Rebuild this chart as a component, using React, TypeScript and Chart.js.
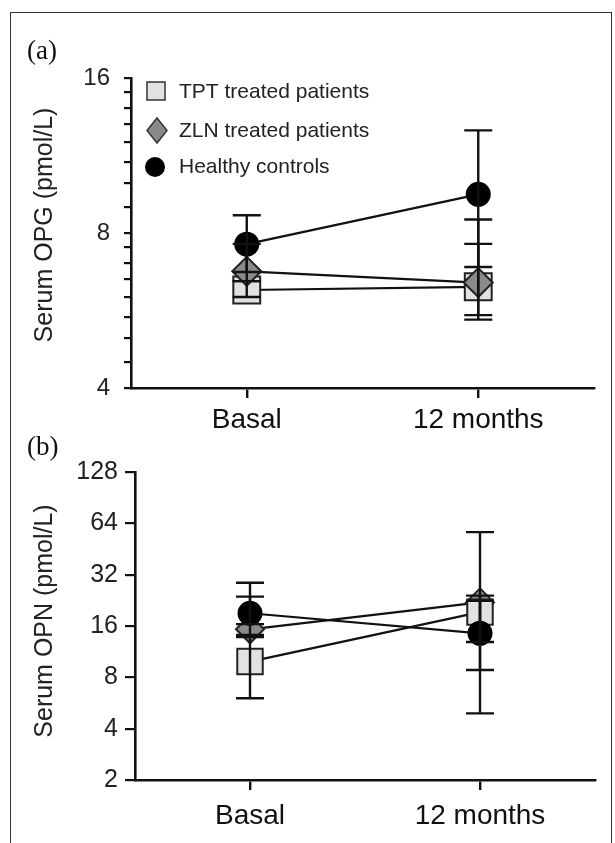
import React, { useEffect, useRef } from 'react';
import { Chart, registerables } from 'chart.js';

Chart.register(...registerables);

const FONT = "'Liberation Sans', Arial, Helvetica, sans-serif";

const categories = ['Basal', '12 months'];
const seriesNames = ['TPT treated patients', 'ZLN treated patients', 'Healthy controls'];

// Panel (a): Serum OPG (pmol/L)
const opgTicks = [4, 4.5, 5, 5.5, 6, 6.5, 7, 7.5, 8, 9, 10, 11, 12, 13, 14, 15, 16];
const opgLabeledTicks = [4, 8, 16];
const opgTPT = [6.2, 6.29];
const opgTPTLow = [6.01, 5.54];
const opgTPTHigh = [6.45, 7.62];
const opgZLN = [6.74, 6.41];
const opgZLNLow = [6.45, 5.43];
const opgZLNHigh = [7.62, 8.5];
const opgHealthy = [7.61, 9.51];
const opgHealthyLow = [6.72, 6.87];
const opgHealthyHigh = [8.66, 12.66];

// Panel (b): Serum OPN (pmol/L)
const opnTicks = [2, 4, 8, 16, 32, 64, 128];
const opnLabeledTicks = [2, 4, 8, 16, 32, 64, 128];
const opnTPT = [9.9, 19.3];
const opnTPTLow = [6.03, 8.83];
const opnTPTHigh = [13.8, 22.5];
const opnZLN = [15.3, 22.0];
const opnZLNLow = [14.2, 12.9];
const opnZLNHigh = [23.8, 56.8];
const opnHealthy = [19.0, 14.5];
const opnHealthyLow = [16.4, 4.92];
const opnHealthyHigh = [28.7, 24.1];

type PanelSpec = {
  canvasTop: number;
  canvasHeight: number;
  padTop: number;
  padRight: number;
  yAxisW: number;
  xAxisH: number;
  min: number;
  max: number;
  ticks: number[];
  labeled: number[];
  yTickLen: number;
  yTickPad: number;
  yTickSize: number;
  xPad: number;
  title: string;
  titleY: number;
  legend: boolean;
  rectR: number;
  diamondR: number;
  circleR: number;
  orders: number[];
  tpt: number[]; tptLow: number[]; tptHigh: number[];
  zln: number[]; zlnLow: number[]; zlnHigh: number[];
  hc: number[]; hcLow: number[]; hcHigh: number[];
};

const errorBarPlugin = {
  id: 'errbars',
  afterDatasetsDraw(chart: any) {
    const ctx = chart.ctx;
    const y = chart.scales.y;
    ctx.save();
    ctx.strokeStyle = '#111';
    ctx.lineWidth = 2.4;
    ctx.lineCap = 'butt';
    chart.data.datasets.forEach((ds: any, di: number) => {
      const meta = chart.getDatasetMeta(di);
      meta.data.forEach((pt: any, i: number) => {
        const x = pt.x;
        const yl = y.getPixelForValue(ds.errLow[i]);
        const yh = y.getPixelForValue(ds.errHigh[i]);
        const cw = 14;
        ctx.beginPath();
        ctx.moveTo(x, yl);
        ctx.lineTo(x, yh);
        ctx.moveTo(x - cw, yl);
        ctx.lineTo(x + cw, yl);
        ctx.moveTo(x - cw, yh);
        ctx.lineTo(x + cw, yh);
        ctx.stroke();
      });
    });
    ctx.restore();
  },
};

function makeDeco(p: PanelSpec) {
  return {
    id: 'deco',
    afterDraw(chart: any) {
      const ctx = chart.ctx;
      ctx.save();
      ctx.translate(45, p.titleY);
      ctx.rotate(-Math.PI / 2);
      ctx.font = `25px ${FONT}`;
      ctx.fillStyle = '#222';
      ctx.textAlign = 'center';
      ctx.textBaseline = 'middle';
      ctx.fillText(p.title, 0, 0);
      ctx.restore();
      if (p.legend) {
        ctx.save();
        ctx.lineWidth = 1.5;
        ctx.strokeStyle = '#333';
        ctx.fillStyle = '#e2e2e2';
        ctx.beginPath();
        ctx.rect(147, 82, 18, 18);
        ctx.fill();
        ctx.stroke();
        ctx.fillStyle = '#8a8a8a';
        ctx.beginPath();
        ctx.moveTo(147, 130.5);
        ctx.lineTo(157, 118);
        ctx.lineTo(167, 130.5);
        ctx.lineTo(157, 143);
        ctx.closePath();
        ctx.fill();
        ctx.stroke();
        ctx.fillStyle = '#000';
        ctx.beginPath();
        ctx.arc(155, 167, 10, 0, Math.PI * 2);
        ctx.fill();
        ctx.font = `21px ${FONT}`;
        ctx.fillStyle = '#222';
        ctx.textAlign = 'left';
        ctx.textBaseline = 'middle';
        ctx.fillText(seriesNames[0], 179, 92);
        ctx.fillText(seriesNames[1], 179, 131.5);
        ctx.fillText(seriesNames[2], 179, 167);
        ctx.restore();
      }
    },
  };
}

function buildConfig(p: PanelSpec): any {
  const common = {
    borderColor: '#111',
    borderWidth: 2.2,
    pointBorderColor: '#222',
    pointBorderWidth: 2,
    pointHoverRadius: 0,
    fill: false,
    tension: 0,
  };
  return {
    type: 'line',
    data: {
      labels: categories,
      datasets: [
        {
          ...common,
          label: seriesNames[0],
          data: p.tpt,
          errLow: p.tptLow,
          errHigh: p.tptHigh,
          pointStyle: 'rect',
          pointRadius: p.rectR,
          pointBackgroundColor: '#e2e2e2',
          order: p.orders[0],
        },
        {
          ...common,
          label: seriesNames[1],
          data: p.zln,
          errLow: p.zlnLow,
          errHigh: p.zlnHigh,
          pointStyle: 'rectRot',
          pointRadius: p.diamondR,
          pointBackgroundColor: '#8a8a8a',
          order: p.orders[1],
        },
        {
          ...common,
          label: seriesNames[2],
          data: p.hc,
          errLow: p.hcLow,
          errHigh: p.hcHigh,
          pointStyle: 'circle',
          pointRadius: p.circleR,
          pointBackgroundColor: '#000',
          pointBorderColor: '#000',
          order: p.orders[2],
        },
      ],
    },
    options: {
      animation: false,
      responsive: false,
      maintainAspectRatio: false,
      events: [],
      layout: { padding: { top: p.padTop, right: p.padRight, left: 0, bottom: 0 } },
      plugins: { legend: { display: false }, tooltip: { enabled: false } },
      scales: {
        x: {
          type: 'category',
          offset: true,
          afterFit: (s: any) => { s.height = p.xAxisH; },
          grid: {
            offset: false,
            drawOnChartArea: false,
            drawTicks: true,
            tickLength: 10,
            color: '#111',
            lineWidth: 2.4,
          },
          border: { display: true, color: '#111', width: 2.6 },
          ticks: {
            color: '#111',
            font: { size: 28, family: FONT },
            padding: p.xPad,
            maxRotation: 0,
            autoSkip: false,
          },
        },
        y: {
          type: 'logarithmic',
          min: p.min,
          max: p.max,
          afterBuildTicks: (s: any) => { s.ticks = p.ticks.map((v) => ({ value: v })); },
          afterFit: (s: any) => { s.width = p.yAxisW; },
          grid: {
            drawOnChartArea: false,
            drawTicks: true,
            tickLength: p.yTickLen,
            color: '#111',
            lineWidth: 2.2,
          },
          border: { display: true, color: '#111', width: 2.6 },
          ticks: {
            autoSkip: false,
            color: '#222',
            font: { size: p.yTickSize, family: FONT },
            padding: p.yTickPad,
            callback: (v: any) => (p.labeled.includes(Number(v)) ? String(v) : ''),
          },
        },
      },
    },
    plugins: [errorBarPlugin, makeDeco(p)],
  };
}

const panelA: PanelSpec = {
  canvasTop: 0, canvasHeight: 440, padTop: 78, padRight: 21, yAxisW: 131, xAxisH: 52,
  min: 4, max: 16, ticks: opgTicks, labeled: opgLabeledTicks,
  yTickLen: 7, yTickPad: 14, yTickSize: 24, xPad: 5,
  title: 'Serum OPG (pmol/L)', titleY: 225, legend: true,
  rectR: 19, diamondR: 14.5, circleR: 11.5,
  orders: [3, 2, 1],
  tpt: opgTPT, tptLow: opgTPTLow, tptHigh: opgTPTHigh,
  zln: opgZLN, zlnLow: opgZLNLow, zlnHigh: opgZLNHigh,
  hc: opgHealthy, hcLow: opgHealthyLow, hcHigh: opgHealthyHigh,
};

const panelB: PanelSpec = {
  canvasTop: 440, canvasHeight: 403, padTop: 32, padRight: 15, yAxisW: 135, xAxisH: 63,
  min: 2, max: 128, ticks: opnTicks, labeled: opnLabeledTicks,
  yTickLen: 10, yTickPad: 7, yTickSize: 25, xPad: 9,
  title: 'Serum OPN (pmol/L)', titleY: 181, legend: false,
  rectR: 18, diamondR: 14, circleR: 11.5,
  orders: [2, 3, 1],
  tpt: opnTPT, tptLow: opnTPTLow, tptHigh: opnTPTHigh,
  zln: opnZLN, zlnLow: opnZLNLow, zlnHigh: opnZLNHigh,
  hc: opnHealthy, hcLow: opnHealthyLow, hcHigh: opnHealthyHigh,
};

export default function App() {
  const refA = useRef<HTMLCanvasElement | null>(null);
  const refB = useRef<HTMLCanvasElement | null>(null);

  useEffect(() => {
    Chart.defaults.font.family = FONT;
    const charts: Chart[] = [];
    if (refA.current) charts.push(new Chart(refA.current, buildConfig(panelA)));
    if (refB.current) charts.push(new Chart(refB.current, buildConfig(panelB)));
    return () => charts.forEach((c) => c.destroy());
  }, []);

  const panelLabel = (text: string, top: number) => (
    <div
      style={{
        position: 'absolute',
        left: 27,
        top,
        fontFamily: "'Liberation Serif', 'Times New Roman', serif",
        fontSize: 27,
        lineHeight: '27px',
        color: '#111',
      }}
    >
      {text}
    </div>
  );

  return (
    <div style={{ position: 'absolute', left: 0, top: 0, width: 615, height: 843, background: '#fff', overflow: 'hidden' }}>
      <div
        style={{
          position: 'absolute',
          left: 10,
          top: 12,
          width: 600,
          height: 850,
          borderLeft: '1.5px solid #333',
          borderTop: '1.5px solid #333',
          borderRight: '1.5px solid #333',
        }}
      />
      <canvas
        ref={refA}
        width={615}
        height={panelA.canvasHeight}
        style={{ position: 'absolute', left: 0, top: panelA.canvasTop, width: 615, height: panelA.canvasHeight }}
      />
      <canvas
        ref={refB}
        width={615}
        height={panelB.canvasHeight}
        style={{ position: 'absolute', left: 0, top: panelB.canvasTop, width: 615, height: panelB.canvasHeight }}
      />
      {panelLabel('(a)', 37)}
      {panelLabel('(b)', 433)}
    </div>
  );
}
